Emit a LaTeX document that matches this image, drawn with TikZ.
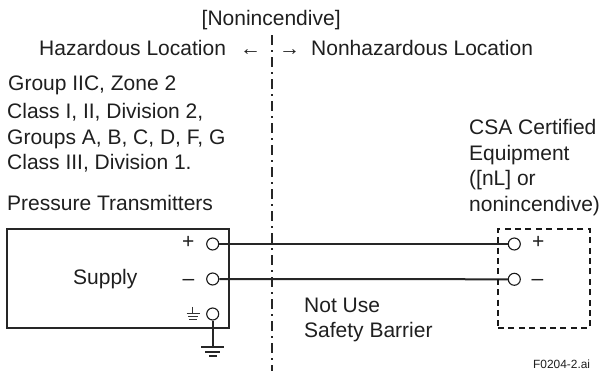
\documentclass[tikz,border=0pt]{standalone}
\usepackage{fontspec}
\setmainfont{Liberation Sans}
\tikzset{
 lbl/.style={inner sep=0pt,anchor=base west,text=black!88,font=\fontsize{21}{23}\selectfont},
 termc/.style={circle,draw=black!90,line width=1.1pt,minimum size=12pt,inner sep=0pt,fill=white},
 wire/.style={line width=2pt,draw=black!85},
 devbox/.style={draw=black!85,line width=1.9pt},
}
\begin{document}
\begin{tikzpicture}[x=1pt,y=-1pt]
\useasboundingbox (0,0) rectangle (600,371);
\fill[white] (0,0) rectangle (600,371);
% boundary
\coordinate (bt) at (271.5,35.5); \coordinate (bb) at (271.5,371);
\draw[line width=2pt,black!85,dash pattern=on 10pt off 5pt on 2pt off 5pt] (bt) -- (bb);
% terminals and wires
\node[termc] (tp) at (212.7,244) {};
\node[termc] (tm) at (212.7,279) {};
\node[termc] (tg) at (212.7,314) {};
\node[termc] (ep) at (514.3,244) {};
\node[termc] (em) at (514.3,279.3) {};
\draw[wire] (tp) -- (ep);
\draw[wire] (tm) -- (em);
% boxes
\node[devbox,minimum width=222pt,minimum height=99pt,inner sep=0pt] (tx) at (118,278.5) {};
\node[draw=black!90,line width=2pt,dash pattern=on 6pt off 4.4pt,minimum width=92pt,minimum height=99pt,inner sep=0pt] (eq) at (544,278.5) {};
% earth
\coordinate (gnd) at (212.7,347);
\draw[wire] (tg) -- (gnd);
\draw[line width=2pt,black!85] (201,347) -- (224,347) (205,352) -- (220,352);
\draw[line width=2pt,black!85] (209,356.5) -- (217,356.5);
% small earth sign
\draw[line width=.8pt,black!80] (192.7,307) -- (192.7,313) (186.5,313) -- (199.5,313) (188,316) -- (198,316) (189,319) -- (196.5,319);
% texts
\node[lbl] (t1) at (201.5,26) {[Nonincendive]};
\node[lbl] (t2) at (39,56) {Hazardous Location};
\node[lbl] (a1) at (240,56) {←};
\node[lbl] (a2) at (279,56) {→};
\node[lbl] (t3) at (311,56) {Nonhazardous Location};
\node[lbl] (g1) at (8,90.5) {Group IIC, Zone 2};
\node[lbl] (g2) at (7,119) {Class I, II, Division 2,};
\node[lbl] (g3) at (7,145) {Groups A, B, C, D, F, G};
\node[lbl] (g4) at (7,170) {Class III, Division 1.};
\node[lbl] (pt) at (7,211) {Pressure Transmitters};
\node[lbl] (c1) at (469,135) {CSA Certified};
\node[lbl] (c2) at (469,160.7) {Equipment};
\node[lbl] (c3) at (469,186) {([nL] or};
\node[lbl] (c4) at (469,211.5) {nonincendive)};
\node[lbl] (sup) at (73,285) {Supply};
\node[lbl] (lp) at (182,249) {+};
\node[lbl] (lm) at (182.5,286) {–};
\node[lbl] (rp) at (532,249) {+};
\node[lbl] (rm) at (531.5,286) {–};
\node[lbl] (n1) at (304,312.7) {Not Use};
\node[lbl] (n2) at (304,338) {Safety Barrier};
\node[lbl,font=\fontsize{11.9}{13}\selectfont] (fn) at (533,369) {F0204-2.ai};
\end{tikzpicture}
\end{document}
